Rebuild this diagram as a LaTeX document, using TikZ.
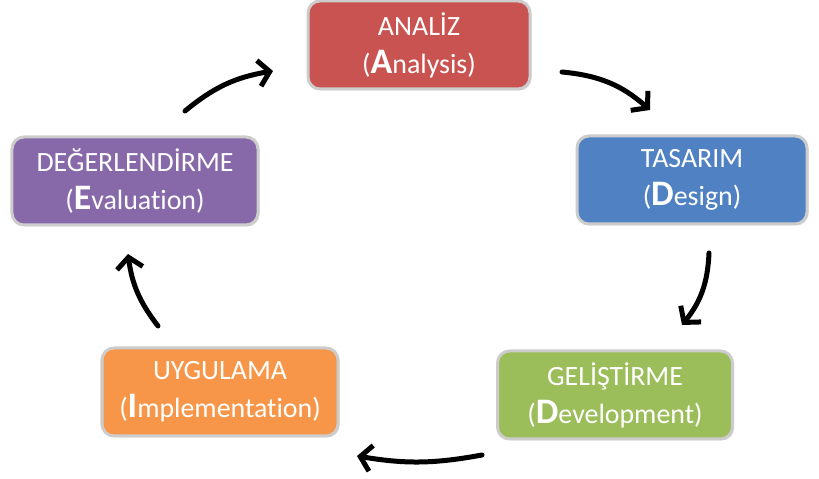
\documentclass[tikz,border=0pt]{standalone}
\usepackage{fontspec}
\setmainfont{Carlito}[Ligatures=NoCommon]
\usetikzlibrary{positioning, arrows.meta, shadows}

\definecolor{analizred}{RGB}{201,83,80}
\definecolor{tasarimblue}{RGB}{80,130,195}
\definecolor{gelistgreen}{RGB}{155,189,90}
\definecolor{uygorange}{RGB}{247,150,72}
\definecolor{degpurple}{RGB}{135,105,170}

\newcommand{\initial}[1]{{\fontsize{36}{38}\selectfont\bfseries #1}}

\tikzset{
  phase/.style={rectangle, rounded corners=12bp, draw=gray!40, line width=3bp,
    text=white, align=center, inner sep=0pt, minimum height=88bp,
    font=\fontsize{28}{38}\selectfont,
    drop shadow={opacity=0.25, shadow xshift=1.5bp, shadow yshift=-1.5bp}},
  cycle/.style={line width=5bp, line cap=round,
    -{Straight Barb[length=11bp, width=26bp]}}
}

\begin{document}
\begin{tikzpicture}[x=1bp, y=1bp]
            \useasboundingbox (0,0) rectangle (819,479);

            \node [phase, fill=analizred, minimum width=222bp] (analiz) at (419,434) {ANAL\.IZ\\(\initial{A}nalysis)};
            \node [phase, fill=tasarimblue, minimum width=230bp] (tasarim) at (692,299) {TASARIM\\(\initial{D}esign)};
            \node [phase, fill=gelistgreen, minimum width=235bp] (gelistirme) at (615,84) {GEL\.I\c{S}T\.IRME\\(\initial{D}evelopment)};
            \node [phase, fill=uygorange, minimum width=236bp] (uygulama) at (220,87) {UYGULAMA\\(\initial{I}mplementation)};
            \node [phase, fill=degpurple, minimum width=246bp] (degerlendirme) at (135,298) {DE\u{G}ERLEND\.IRME\\(\initial{E}valuation)};

            \coordinate (ad1) at (562,407);  \coordinate (ad2) at (650,369);
            \coordinate (dg1) at (709,226);  \coordinate (dg2) at (682,154);
            \coordinate (gu1) at (482,24);   \coordinate (gu2) at (357,23);
            \coordinate (ue1) at (158,153);  \coordinate (ue2) at (128,225);
            \coordinate (ea1) at (185,368);  \coordinate (ea2) at (273,408);

            \draw [cycle] (ad1) to [bend left=18] (ad2);
            \draw [cycle] (dg1) to [bend left=18] (dg2);
            \draw [cycle] (gu1) to [bend left=10] (gu2);
            \draw [cycle] (ue1) to [bend left=15] (ue2);
            \draw [cycle] (ea1) to [bend left=15] (ea2);
          \end{tikzpicture}
\end{document}
